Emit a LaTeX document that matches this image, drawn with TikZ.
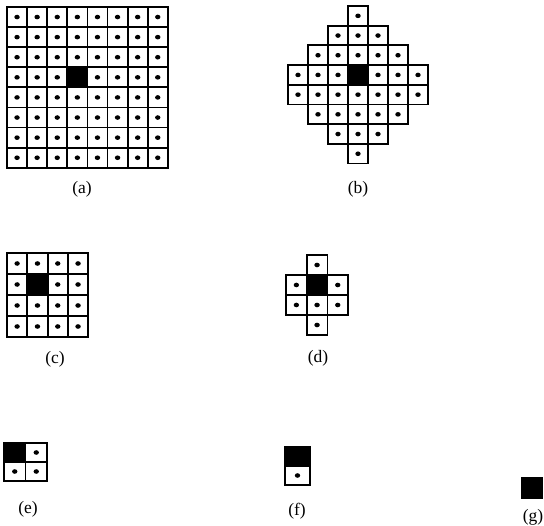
\documentclass[tikz,border=0pt]{standalone}
\usepackage{fontspec}
\setmainfont{Liberation Serif}
\tikzset{
  gridline/.style={draw=black, line width=1.8pt},
  blackcell/.style={fill=black},
  caption/.style={font=\fontsize{17.5}{20}\selectfont, inner sep=0pt, anchor=base}
}
% #1 x0, #2 y0, #3 w, #4 h, #5 col, #6 row
\newcommand\mycell[6]{%
  \draw[gridline] ({#1+#5*#3},{#2+#6*#4}) rectangle ++(#3,#4);
  \fill ({#1+(#5+0.5)*#3},{#2+(#6+0.5)*#4}) ellipse (2.7pt and 2.3pt);}
\newcommand\myblack[6]{%
  \fill[blackcell] ({#1+#5*#3},{#2+#6*#4}) rectangle ++(#3,#4);
  \draw[gridline] ({#1+#5*#3},{#2+#6*#4}) rectangle ++(#3,#4);}
\begin{document}
\begin{tikzpicture}[x=1pt,y=-1pt]
\useasboundingbox (0,0) rectangle (544,526);
% (a)
\foreach \c in {0,...,7}{\foreach \r in {0,...,7}{\mycell{7}{7}{20.1}{20.1}{\c}{\r}}}
\myblack{7}{7}{20.1}{20.1}{3}{3}
\node[caption] (la) at (82,194) {(a)};
% (b)
\foreach \c/\r in {3/0, 2/1,3/1,4/1, 1/2,2/2,3/2,4/2,5/2,
  0/3,1/3,2/3,3/3,4/3,5/3,6/3, 0/4,1/4,2/4,3/4,4/4,5/4,6/4,
  1/5,2/5,3/5,4/5,5/5, 2/6,3/6,4/6, 3/7}{\mycell{288}{6}{20}{19.7}{\c}{\r}}
\myblack{288}{6}{20}{19.7}{3}{3}
\node[caption] (lb) at (358,194) {(b)};
% (c)
\foreach \c in {0,...,3}{\foreach \r in {0,...,3}{\mycell{7}{253}{20.3}{21}{\c}{\r}}}
\myblack{7}{253}{20.3}{21}{1}{1}
\node[caption] (lc) at (55,364) {(c)};
% (d)
\foreach \c/\r in {1/0, 0/1,1/1,2/1, 0/2,1/2,2/2, 1/3}{\mycell{286}{255}{20.7}{20}{\c}{\r}}
\myblack{286}{255}{20.7}{20}{1}{1}
\node[caption] (ld) at (318,363) {(d)};
% (e)
\foreach \c/\r in {0/0,1/0,0/1,1/1}{\mycell{4}{443}{21.5}{19}{\c}{\r}}
\myblack{4}{443}{21.5}{19}{0}{0}
\node[caption] (le) at (28,514) {(e)};
% (f)
\foreach \c/\r in {0/0,0/1}{\mycell{285}{447}{25}{19}{\c}{\r}}
\myblack{285}{447}{25}{19}{0}{0}
\node[caption] (lf) at (297,516) {(f)};
% (g)
\myblack{522}{478}{20}{20}{0}{0}
\node[caption] (lg) at (533,522) {(g)};
\end{tikzpicture}
\end{document}
